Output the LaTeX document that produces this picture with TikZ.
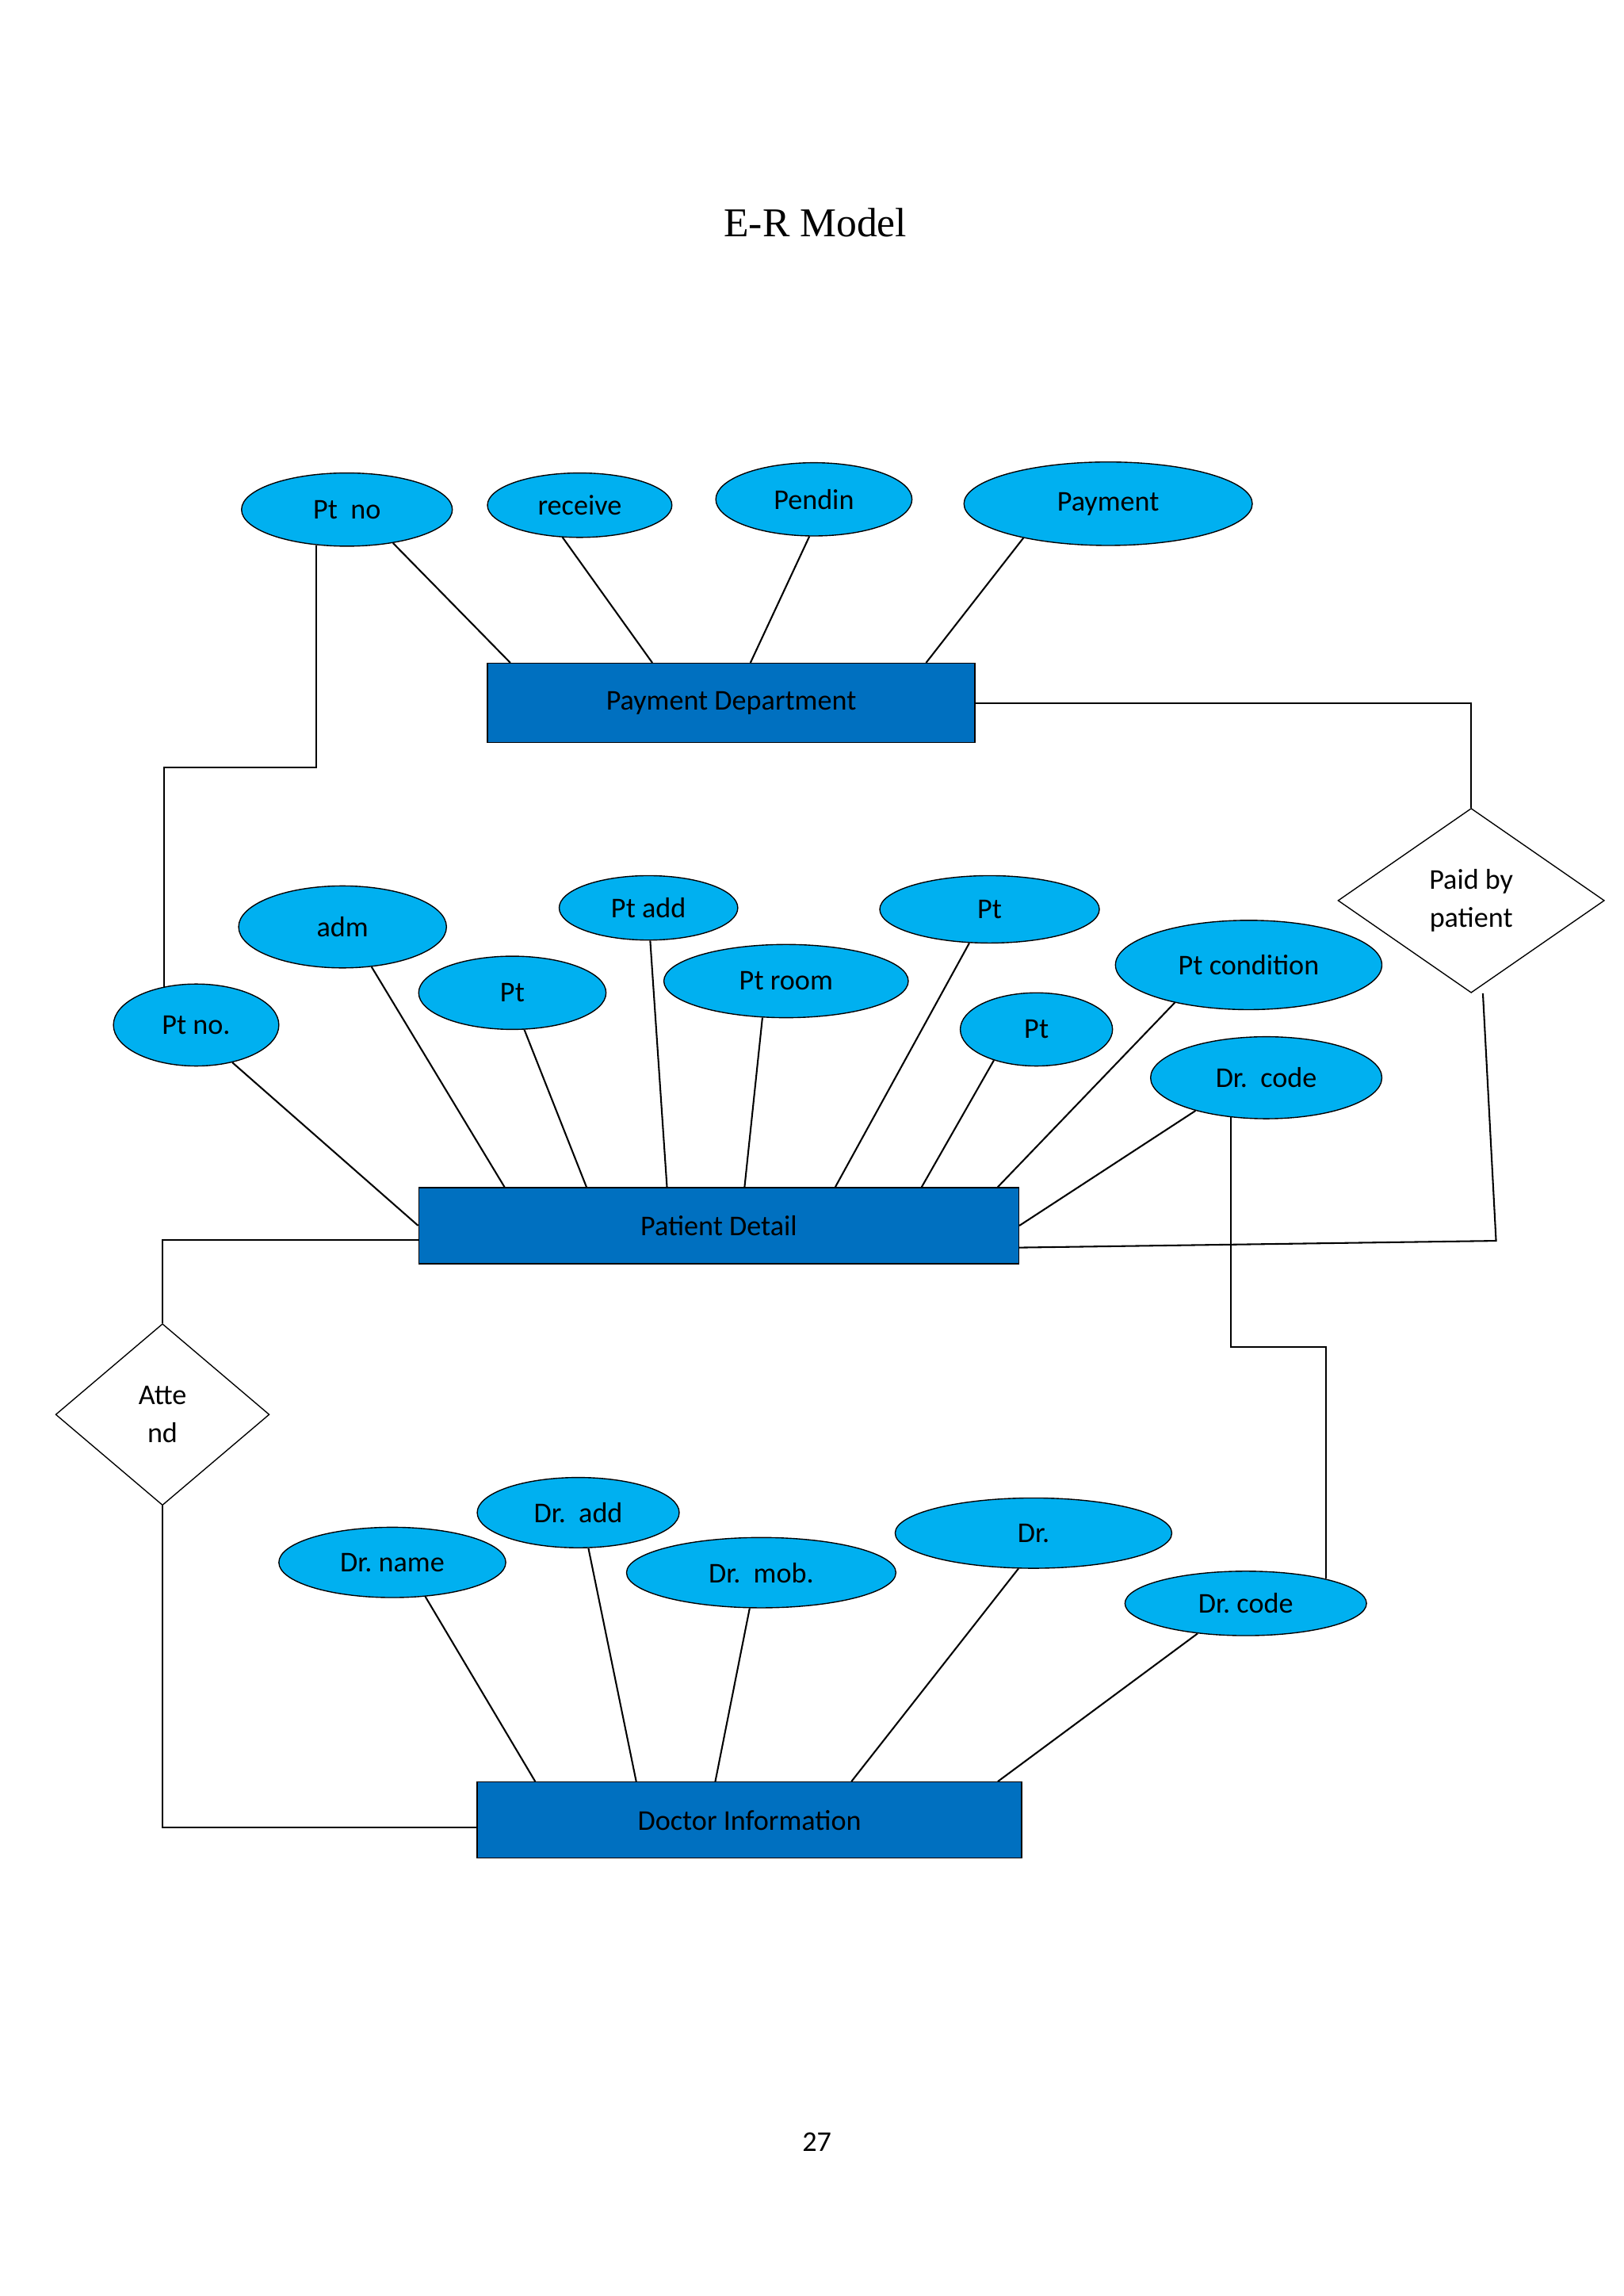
\documentclass[tikz,border=0pt]{standalone}
\usepackage{fontspec}
\setmainfont{Carlito}
\newfontfamily\titlefont{Liberation Serif}
\usetikzlibrary{shapes.geometric}
\def\u{0.5365pt}
\definecolor{attrblue}{RGB}{0,176,240}
\definecolor{entblue}{RGB}{0,112,192}
\tikzset{
    attr/.style 2 args={ellipse,draw=black,fill=attrblue,inner sep=0pt,
        minimum width=#1*\u,minimum height=#2*\u,font=\fontsize{10.5}{12}\selectfont},
    entity/.style 2 args={rectangle,draw=black,fill=entblue,inner sep=0pt,
        minimum width=#1*\u,minimum height=#2*\u,font=\fontsize{10.5}{12}\selectfont},
    rel/.style 2 args={diamond,draw=black,fill=white,inner sep=0pt,align=center,
        minimum width=#1*\u,minimum height=#2*\u,font=\fontsize{10.5}{14}\selectfont},
    link/.style={draw=black,line width=0.6pt}
}
\begin{document}
\begin{tikzpicture}[x=\u,y=-\u]
    % page
    \useasboundingbox[fill=white] (0,0) rectangle (1109,1568);
    \node[font=\titlefont\fontsize{15}{18}\selectfont] (title) at (557,152) {E-R Model};
    \node[font=\fontsize{10.5}{12}\selectfont] (pageno) at (558,1463) {27};

    % payment department
    \node[entity={333}{54}] (pay) at (499.5,480) {Payment Department};
    \node[attr={144}{50}] (ptno) at (237,348) {Pt\ \ no};
    \node[attr={126}{44}] (recv) at (396,345) {receive};
    \node[attr={134}{50}] (pend) at (556,341) {Pendin};
    \node[attr={197}{57}] (pmt) at (757,344) {Payment};
    \draw[link] (ptno.-36) -- ([xshift=16*\u]pay.north west);
    \draw[link] (recv.-118) -- ([xshift=113*\u]pay.north west);
    \draw[link] (pend.-97) -- ([xshift=180*\u]pay.north west);
    \draw[link] (pmt.-158) -- ([xshift=300*\u]pay.north west);

    % paid by patient
    \node[rel={182}{126}] (paid) at (1005,615) {Paid by\\patient};
    \draw[link] (pay.east) -| (paid.north);

    % patient detail
    \node[entity={410}{52}] (pd) at (491,837) {Patient Detail};
    \node[attr={142}{56}] (adm) at (234,633) {adm};
    \node[attr={113}{56}] (ptnob) at (134,700) {Pt no.};
    \node[attr={128}{50}] (pta) at (350,678) {Pt};
    \node[attr={122}{44}] (ptadd) at (443,620) {Pt add};
    \node[attr={167}{50}] (ptroom) at (537,670) {Pt room};
    \node[attr={150}{46}] (ptb) at (676,621) {Pt};
    \node[attr={182}{61}] (ptcond) at (853,659) {Pt condition};
    \node[attr={104}{50}] (ptc) at (708,703) {Pt};
    \node[attr={158}{56}] (drcodea) at (865,736) {Dr.\ \ code};
    \draw[link] (ptnob.-46) -- (pd.west);
    \draw[link] (adm.-54) -- ([xshift=59*\u]pd.north west);
    \draw[link] (pta.-72) -- ([xshift=115*\u]pd.north west);
    \draw[link] (ptadd.-87) -- ([xshift=170*\u]pd.north west);
    \draw[link] (ptroom.-123) -- ([xshift=223*\u]pd.north west);
    \draw[link] (ptb.-121) -- ([xshift=285*\u]pd.north west);
    \draw[link] (ptc.-144) -- ([xshift=344*\u]pd.north west);
    \draw[link] (ptcond.-153) -- ([xshift=396*\u]pd.north west);
    \draw[link] (drcodea.-155) -- (pd.east);
    \draw[link] (ptno.-131) -- ++(0,152) -| (ptnob.130);
    \draw[link] ([xshift=8*\u]paid.south) -- ++(9,169) -- ([yshift=-15*\u]pd.east);

    % attend
    \node[rel={146}{124}] (att) at (111,966) {Atte\\nd};
    \draw[link] ([yshift=-10*\u]pd.west) -| (att.north);

    % doctor information
    \node[entity={372}{52}] (doc) at (512,1243) {Doctor Information};
    \node[attr={155}{48}] (drname) at (268,1067) {Dr.\ name};
    \node[attr={138}{48}] (dradd) at (395,1033) {Dr.\ \ add};
    \node[attr={184}{48}] (drmob) at (520,1074) {Dr.\ \ mob.};
    \node[attr={189}{48}] (dr) at (706,1047) {Dr.\hspace{60\u}};
    \node[attr={165}{44}] (drcodeb) at (851,1095) {Dr.\ code};
    \draw[link] (drname.-46) -- ([xshift=40*\u]doc.north west);
    \draw[link] (dradd.-74) -- ([xshift=109*\u]doc.north west);
    \draw[link] (drmob.-108) -- ([xshift=163*\u]doc.north west);
    \draw[link] (dr.-113) -- ([xshift=256*\u]doc.north west);
    \draw[link] (drcodeb.-148) -- ([xshift=356*\u]doc.north west);
    \draw[link] (drcodea.-132) -- ++(0,157) -| (drcodeb.17);
    \draw[link] (att.south) |- ([yshift=-5*\u]doc.west);
\end{tikzpicture}
\end{document}
